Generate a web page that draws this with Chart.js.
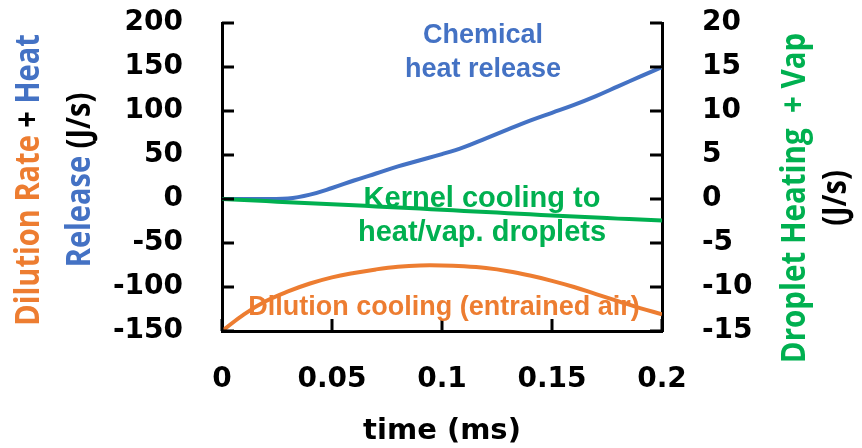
<!DOCTYPE html>
<html><head><meta charset="utf-8">
<script src="https://cdn.jsdelivr.net/npm/chart.js@4/dist/chart.umd.min.js"></script>
<style>html,body{margin:0;padding:0;background:#fff;}canvas{display:block;}</style>
</head><body>
<canvas id="c" width="862" height="448"></canvas>
<script>
// ---- data ----
const timeMs = [0,0.01,0.02,0.03,0.04,0.05,0.06,0.07,0.08,0.09,0.10,0.11,0.12,0.13,0.14,0.15,0.16,0.17,0.18,0.19,0.20];
const chemicalHeatRelease = [0,0,0,0.5,5,12.5,21,29,37,44,51,59,69,79,89,98,107,117,128,139,150];
const dilutionCooling = [-150,-131,-116,-105,-96,-89,-84,-80,-77,-75.5,-75.5,-76.5,-78.5,-82,-87,-93,-100,-108,-116,-124,-131];
const dropletCooling = [0,-0.12,-0.24,-0.36,-0.48,-0.6,-0.72,-0.84,-0.96,-1.09,-1.22,-1.35,-1.48,-1.61,-1.74,-1.87,-1.99,-2.11,-2.23,-2.34,-2.45];
const xTickLabels = ['0','0.05','0.1','0.15','0.2'];
const leftTickRange = [-150, 200, 50];
const rightTickRange = [-15, 20, 5];

const BLUE = '#4472C4', ORANGE = '#ED7D31', GREEN = '#00B050', BLACK = '#000000';
const tickFont = {family:'DejaVu Sans', weight:'bold', size:28};

function pts(vals){ return timeMs.map((t,i)=>({x:t, y:vals[i]})); }

function fixBox(w, h){
  return (s)=>{
    if (w !== null) s.width = w;
    if (h !== null) s.height = h;
    s.paddingTop = 0; s.paddingBottom = 0; s.paddingLeft = 0; s.paddingRight = 0;
  };
}

const decor = {
  id:'decor',
  afterDraw(chart){
    const ctx = chart.ctx, ca = chart.chartArea;
    const sx = chart.scales.x, sy = chart.scales.y, sy2 = chart.scales.y2;
    ctx.save();
    ctx.strokeStyle = BLACK; ctx.lineWidth = 3; ctx.lineCap = 'butt';
    ctx.beginPath();
    sy.ticks.forEach(t=>{ const p = sy.getPixelForValue(t.value); ctx.moveTo(ca.left, p); ctx.lineTo(ca.left+12, p); });
    sy2.ticks.forEach(t=>{ const p = sy2.getPixelForValue(t.value); ctx.moveTo(ca.right-12, p); ctx.lineTo(ca.right, p); });
    sx.ticks.forEach(t=>{ const p = sx.getPixelForValue(t.value); ctx.moveTo(p, ca.bottom); ctx.lineTo(p, ca.bottom-12); });
    ctx.stroke();

    // x title
    ctx.fillStyle = BLACK;
    ctx.font = 'bold 29px "DejaVu Sans"';
    ctx.textAlign = 'center'; ctx.textBaseline = 'middle';
    ctx.fillText('time (ms)', (ca.left+ca.right)/2, 431);

    // rotated multi-colour titles
    function rotLine(segs, baseX, cy, font, stretch){
      ctx.save();
      ctx.font = font;
      ctx.textAlign = 'left'; ctx.textBaseline = 'alphabetic';
      ctx.translate(baseX, cy);
      ctx.scale(stretch, 1);
      ctx.rotate(-Math.PI/2);
      let total = 0; segs.forEach(s=> total += ctx.measureText(s[0]).width);
      let x = -total/2;
      segs.forEach(s=>{ ctx.fillStyle = s[1]; ctx.fillText(s[0], x, 0); x += ctx.measureText(s[0]).width; });
      ctx.restore();
    }
    const tf = 'bold 29px "Open Sans"';
    rotLine([['Dilution Rate',ORANGE],[' + ',BLACK],['Heat',BLUE]], 39, 180, tf, 1.18);
    rotLine([['Release',BLUE],[' (J/s)',BLACK]], 90, 180, tf, 1.18);
    rotLine([['Droplet Heating  + Vap',GREEN]], 805, 198, 'bold 29.5px "Open Sans"', 1.18);
    rotLine([['(J/s)',BLACK]], 846, 198, tf, 1.18);

    // annotations
    ctx.textAlign = 'center'; ctx.textBaseline = 'alphabetic';
    ctx.font = 'bold 27px "Liberation Sans"';
    ctx.fillStyle = BLUE;
    ctx.fillText('Chemical', 483, 43);
    ctx.fillText('heat release', 483, 77);
    ctx.fillStyle = ORANGE;
    ctx.fillText('Dilution cooling (entrained air)', 444, 315);
    ctx.font = 'bold 29px "Liberation Sans"';
    ctx.fillStyle = GREEN;
    ctx.fillText('Kernel cooling to', 482, 207);
    ctx.fillText('heat/vap. droplets', 482, 241);
    ctx.restore();
  }
};

new Chart(document.getElementById('c'), {
  type:'line',
  data:{ datasets:[
    {label:'Dilution cooling (entrained air)', data:pts(dilutionCooling), yAxisID:'y', borderColor:ORANGE, borderWidth:4, pointRadius:0, tension:0.4, fill:false},
    {label:'Kernel cooling to heat/vap. droplets', data:pts(dropletCooling), yAxisID:'y2', borderColor:GREEN, borderWidth:4, pointRadius:0, tension:0.4, fill:false},
    {label:'Chemical heat release', data:pts(chemicalHeatRelease), yAxisID:'y', borderColor:BLUE, borderWidth:4, pointRadius:0, tension:0.4, fill:false}
  ]},
  options:{
    responsive:false, animation:false, devicePixelRatio:1,
    layout:{padding:{top:23,left:0,right:0,bottom:0}},
    plugins:{legend:{display:false}, tooltip:{enabled:false}},
    scales:{
      x:{type:'linear', position:'bottom', min:0, max:0.2,
         ticks:{stepSize:0.05, autoSkip:false, maxRotation:0, padding:32, color:BLACK, font:tickFont,
                callback:(v)=>xTickLabels[Math.round(v/0.05)]},
         grid:{display:false, drawTicks:false}, border:{display:true, color:BLACK, width:3},
         afterFit:fixBox(null,117)},
      y:{position:'left', min:leftTickRange[0], max:leftTickRange[1],
         ticks:{stepSize:leftTickRange[2], padding:39, color:BLACK, font:tickFont},
         grid:{display:false, drawTicks:false}, border:{display:true, color:BLACK, width:3},
         afterFit:fixBox(222,null)},
      y2:{position:'right', min:rightTickRange[0], max:rightTickRange[1],
         ticks:{stepSize:rightTickRange[2], padding:40, color:BLACK, font:tickFont},
         grid:{display:false, drawTicks:false}, border:{display:true, color:BLACK, width:3},
         afterFit:fixBox(200,null)}
    }
  },
  plugins:[decor]
});
</script>
</body></html>
